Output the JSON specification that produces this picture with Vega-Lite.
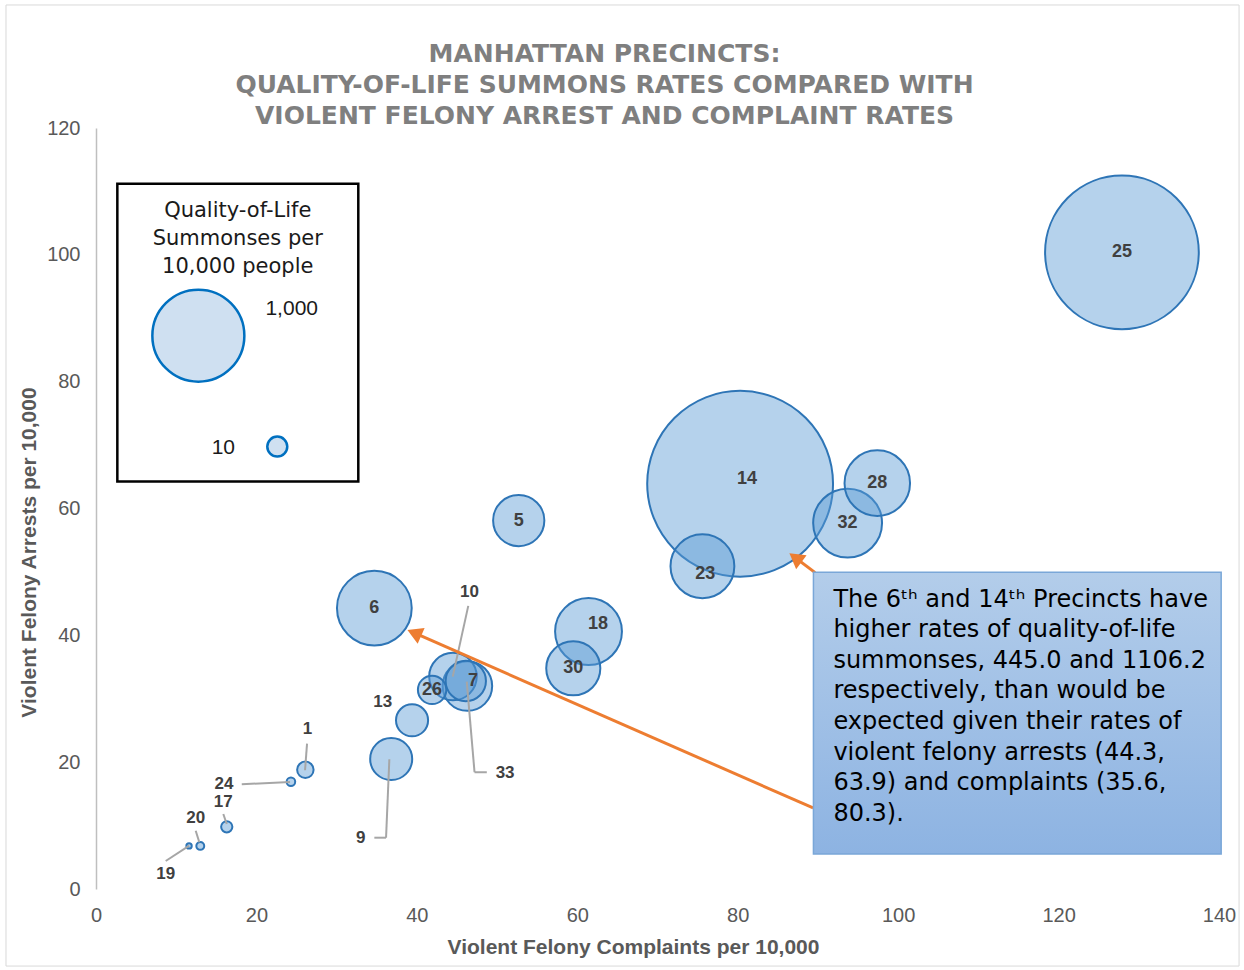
{
  "$schema": "https://vega.github.io/schema/vega-lite/v6.json",
  "width": 1123,
  "height": 761,
  "autosize": {"type": "none"},
  "padding": {"left": 96, "top": 128, "right": 25, "bottom": 81},
  "background": "white",
  "config": {"view": {"stroke": null}, "font": "Liberation Sans"},
  "title": {
    "text": ["MANHATTAN PRECINCTS:", "QUALITY-OF-LIFE SUMMONS RATES COMPARED WITH", "VIOLENT FELONY ARREST AND COMPLAINT RATES"],
    "font": "DejaVu Sans",
    "fontSize": 25,
    "fontWeight": "bold",
    "color": "#7f7f7f",
    "anchor": "middle",
    "frame": "group",
    "lineHeight": 31,
    "offset": -125,
    "dx": -53
  },
  "datasets": {
    "precincts": [
      {"precinct": "14", "complaints": 80.3, "arrests": 63.9, "summons": 1106.2},
      {"precinct": "25", "complaints": 127.9, "arrests": 100.4, "summons": 915},
      {"precinct": "6", "complaints": 34.7, "arrests": 44.3, "summons": 445.0},
      {"precinct": "32", "complaints": 93.7, "arrests": 57.7, "summons": 410},
      {"precinct": "18", "complaints": 61.4, "arrests": 40.6, "summons": 398},
      {"precinct": "28", "complaints": 97.4, "arrests": 64.0, "summons": 390},
      {"precinct": "23", "complaints": 75.6, "arrests": 50.9, "summons": 380},
      {"precinct": "30", "complaints": 59.5, "arrests": 34.8, "summons": 322},
      {"precinct": "5", "complaints": 52.7, "arrests": 58.1, "summons": 305},
      {"precinct": "33", "complaints": 46.3, "arrests": 32.0, "summons": 295},
      {"precinct": "10", "complaints": 44.5, "arrests": 33.5, "summons": 283},
      {"precinct": "9", "complaints": 36.8, "arrests": 20.5, "summons": 250},
      {"precinct": "7", "complaints": 46.1, "arrests": 32.8, "summons": 240},
      {"precinct": "13", "complaints": 39.4, "arrests": 26.6, "summons": 191},
      {"precinct": "26", "complaints": 41.9, "arrests": 31.4, "summons": 169},
      {"precinct": "1", "complaints": 26.1, "arrests": 18.8, "summons": 98},
      {"precinct": "17", "complaints": 16.3, "arrests": 9.8, "summons": 67},
      {"precinct": "24", "complaints": 24.3, "arrests": 16.9, "summons": 51},
      {"precinct": "20", "complaints": 13.0, "arrests": 6.8, "summons": 47},
      {"precinct": "19", "complaints": 11.6, "arrests": 6.8, "summons": 32}
    ],
    "shifted": [
      {"precinct": "14", "lx": 81.17, "ly": 64.67},
      {"precinct": "23", "lx": 75.94, "ly": 49.68},
      {"precinct": "18", "lx": 62.59, "ly": 41.8},
      {"precinct": "7", "lx": 47.0, "ly": 32.81}
    ],
    "callouts": [
      {"precinct": "1", "lx": 26.35, "ly": 25.19},
      {"precinct": "24", "lx": 15.96, "ly": 16.5},
      {"precinct": "17", "lx": 15.87, "ly": 13.7},
      {"precinct": "20", "lx": 12.43, "ly": 11.25},
      {"precinct": "19", "lx": 8.69, "ly": 2.37},
      {"precinct": "9", "lx": 33.0, "ly": 8.09},
      {"precinct": "13", "lx": 35.75, "ly": 29.54},
      {"precinct": "10", "lx": 46.55, "ly": 46.89},
      {"precinct": "33", "lx": 51.0, "ly": 18.25}
    ],
    "leaders": [
      {"precinct": "1", "x1": 26.31, "y1": 22.92, "x2": 26.06, "y2": 18.72},
      {"precinct": "24", "x1": 18.17, "y1": 16.51, "x2": 24.19, "y2": 16.88},
      {"precinct": "17", "x1": 15.87, "y1": 11.83, "x2": 16.3, "y2": 10.25},
      {"precinct": "20", "x1": 12.43, "y1": 9.19, "x2": 12.88, "y2": 7.36},
      {"precinct": "19", "x1": 8.69, "y1": 4.42, "x2": 11.63, "y2": 6.83},
      {"precinct": "9", "x1": 34.7, "y1": 8.09, "x2": 36.16, "y2": 8.09},
      {"precinct": "9", "x1": 36.16, "y1": 8.09, "x2": 36.57, "y2": 20.46},
      {"precinct": "10", "x1": 46.41, "y1": 44.64, "x2": 44.47, "y2": 33.49},
      {"precinct": "33", "x1": 48.72, "y1": 18.41, "x2": 47.19, "y2": 18.41},
      {"precinct": "33", "x1": 47.19, "y1": 18.41, "x2": 46.22, "y2": 32.7}
    ],
    "arrows": [
      {"target": "6", "x1": 89.4, "y1": 12.78, "x2": 39.68, "y2": 40.38, "angle": 293.7},
      {"target": "14", "x1": 89.65, "y1": 49.89, "x2": 87.19, "y2": 52.24, "angle": 307}
    ]
  },
  "layer": [
    {
      "data": {"values": [{}]},
      "mark": {"type": "rect", "fill": null, "stroke": "#d9d9d9", "strokeWidth": 1},
      "encoding": {
        "x": {"datum": -11.22, "type": "quantitative"},
        "x2": {"datum": 142.5},
        "y": {"datum": 139.4, "type": "quantitative"},
        "y2": {"datum": -12.15}
      }
    },
    {
      "data": {"name": "precincts"},
      "mark": {"type": "circle", "fill": "#5b9bd5", "fillOpacity": 0.45, "stroke": "#2e75b6", "strokeWidth": 2, "opacity": 1},
      "encoding": {
        "x": {
          "field": "complaints", "type": "quantitative",
          "scale": {"domain": [0, 140], "nice": false, "zero": false},
          "axis": {
            "title": "Violent Felony Complaints per 10,000",
            "values": [0, 20, 40, 60, 80, 100, 120, 140],
            "domain": false, "ticks": false, "grid": false, "labelFlush": false,
            "labelFontSize": 20, "labelColor": "#595959", "labelPadding": 16,
            "titleFontSize": 21, "titleFontWeight": "bold", "titleColor": "#595959",
            "titlePadding": 11, "titleX": 537
          }
        },
        "y": {
          "field": "arrests", "type": "quantitative",
          "scale": {"domain": [0, 120], "nice": false, "zero": false},
          "axis": {
            "title": "Violent Felony Arrests per 10,000",
            "values": [0, 20, 40, 60, 80, 100, 120],
            "domain": true, "domainColor": "#bfbfbf", "domainWidth": 1.5,
            "ticks": false, "grid": false, "labelFlush": false,
            "labelFontSize": 20, "labelColor": "#595959", "labelPadding": 16,
            "titleFontSize": 21, "titleFontWeight": "bold", "titleColor": "#595959",
            "titlePadding": 7, "titleY": 424
          }
        },
        "size": {
          "field": "summons", "type": "quantitative",
          "scale": {"type": "pow", "exponent": 2, "domain": [0, 1200], "range": [0, 40643]},
          "legend": null
        },
        "order": {"field": "summons", "type": "quantitative", "sort": "descending"}
      }
    },
    {
      "data": {"name": "precincts"},
      "transform": [{"filter": "indexof(['1','24','17','20','19','9','13','10','33','14','23','18','7'], datum.precinct) < 0"}],
      "mark": {"type": "text", "font": "Liberation Sans", "fontSize": 18, "fontWeight": "bold", "color": "#404040", "align": "center", "baseline": "middle"},
      "encoding": {
        "x": {"field": "complaints", "type": "quantitative"},
        "y": {"field": "arrests", "type": "quantitative"},
        "text": {"field": "precinct"}
      }
    },
    {
      "data": {"name": "shifted"},
      "mark": {"type": "text", "font": "Liberation Sans", "fontSize": 18, "fontWeight": "bold", "color": "#404040", "align": "center", "baseline": "middle"},
      "encoding": {
        "x": {"field": "lx", "type": "quantitative"},
        "y": {"field": "ly", "type": "quantitative"},
        "text": {"field": "precinct"}
      }
    },
    {
      "data": {"name": "leaders"},
      "mark": {"type": "rule", "color": "#a6a6a6", "strokeWidth": 2},
      "encoding": {
        "x": {"field": "x1", "type": "quantitative"},
        "y": {"field": "y1", "type": "quantitative"},
        "x2": {"field": "x2"},
        "y2": {"field": "y2"}
      }
    },
    {
      "data": {"name": "callouts"},
      "mark": {"type": "text", "font": "Liberation Sans", "fontSize": 17, "fontWeight": "bold", "color": "#404040", "align": "center", "baseline": "middle"},
      "encoding": {
        "x": {"field": "lx", "type": "quantitative"},
        "y": {"field": "ly", "type": "quantitative"},
        "text": {"field": "precinct"}
      }
    },
    {
      "data": {"name": "arrows"},
      "mark": {"type": "rule", "color": "#ed7d31", "strokeWidth": 3},
      "encoding": {
        "x": {"field": "x1", "type": "quantitative"},
        "y": {"field": "y1", "type": "quantitative"},
        "x2": {"field": "x2"},
        "y2": {"field": "y2"}
      }
    },
    {
      "data": {"name": "arrows"},
      "mark": {"type": "point", "shape": "triangle-up", "filled": true, "fill": "#ed7d31", "stroke": null, "size": 300, "opacity": 1},
      "encoding": {
        "x": {"field": "x2", "type": "quantitative"},
        "y": {"field": "y2", "type": "quantitative"},
        "angle": {"field": "angle", "type": "quantitative", "scale": null}
      }
    },
    {
      "data": {"values": [{}]},
      "mark": {
        "type": "rect",
        "fill": {"gradient": "linear", "x1": 0, "y1": 0, "x2": 0, "y2": 1, "stops": [{"offset": 0, "color": "#b3cdea"}, {"offset": 1, "color": "#8db3e2"}]},
        "stroke": "#7aa7d8", "strokeWidth": 1.5
      },
      "encoding": {
        "x": {"datum": 89.44, "type": "quantitative"},
        "x2": {"datum": 140.27},
        "y": {"datum": 49.95, "type": "quantitative"},
        "y2": {"datum": 5.52}
      }
    },
    {
      "data": {"values": [{}]},
      "mark": {
        "type": "text",
        "text": ["The 6ᵗʰ and 14ᵗʰ Precincts have", "higher rates of quality-of-life", "summonses, 445.0 and 1106.2", "respectively, than would be", "expected given their rates of", "violent felony arrests (44.3,", "63.9) and complaints (35.6,", "80.3)."],
        "font": "DejaVu Sans", "fontSize": 24, "lineHeight": 30.6, "color": "#000000",
        "align": "left", "baseline": "alphabetic"
      },
      "encoding": {
        "x": {"datum": 91.93, "type": "quantitative"},
        "y": {"datum": 44.53, "type": "quantitative"}
      }
    },
    {
      "data": {"values": [{}]},
      "mark": {"type": "rect", "fill": "white", "stroke": "#000000", "strokeWidth": 2.5},
      "encoding": {
        "x": {"datum": 2.66, "type": "quantitative"},
        "x2": {"datum": 32.7},
        "y": {"datum": 111.2, "type": "quantitative"},
        "y2": {"datum": 64.24}
      }
    },
    {
      "data": {"values": [{}]},
      "mark": {
        "type": "text",
        "text": ["Quality-of-Life", "Summonses per", "10,000 people"],
        "font": "DejaVu Sans", "fontSize": 21, "lineHeight": 28, "color": "#1a1a1a",
        "align": "center", "baseline": "alphabetic"
      },
      "encoding": {
        "x": {"datum": 17.67, "type": "quantitative"},
        "y": {"datum": 106.0, "type": "quantitative"}
      }
    },
    {
      "data": {"values": [{}]},
      "mark": {"type": "circle", "fill": "#cfe0f1", "stroke": "#0070c0", "strokeWidth": 2.5, "size": 8464, "opacity": 1},
      "encoding": {
        "x": {"datum": 12.76, "type": "quantitative"},
        "y": {"datum": 87.25, "type": "quantitative"}
      }
    },
    {
      "data": {"values": [{}]},
      "mark": {"type": "text", "text": "1,000", "font": "Liberation Sans", "fontSize": 21, "color": "#1a1a1a", "align": "center", "baseline": "middle"},
      "encoding": {
        "x": {"datum": 24.4, "type": "quantitative"},
        "y": {"datum": 91.4, "type": "quantitative"}
      }
    },
    {
      "data": {"values": [{}]},
      "mark": {"type": "circle", "fill": "#cfe0f1", "stroke": "#0070c0", "strokeWidth": 2.5, "size": 400, "opacity": 1},
      "encoding": {
        "x": {"datum": 22.6, "type": "quantitative"},
        "y": {"datum": 69.76, "type": "quantitative"}
      }
    },
    {
      "data": {"values": [{}]},
      "mark": {"type": "text", "text": "10", "font": "Liberation Sans", "fontSize": 21, "color": "#1a1a1a", "align": "center", "baseline": "middle"},
      "encoding": {
        "x": {"datum": 15.87, "type": "quantitative"},
        "y": {"datum": 69.5, "type": "quantitative"}
      }
    }
  ]
}
